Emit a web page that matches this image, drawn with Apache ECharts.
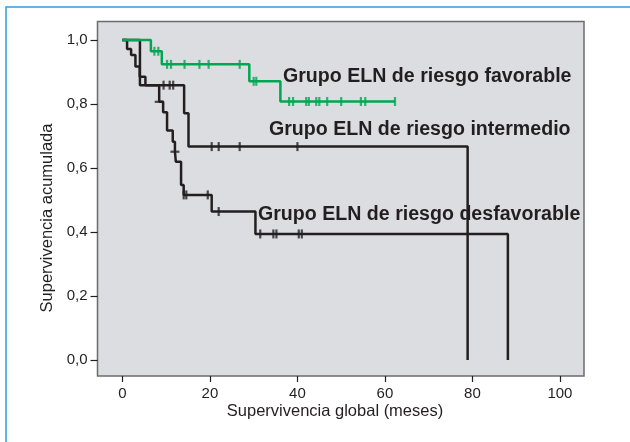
<!DOCTYPE html>
<html>
<head>
<meta charset="utf-8">
<script src="https://cdn.jsdelivr.net/npm/echarts@6/dist/echarts.min.js"></script>
<style>
html, body { margin: 0; padding: 0; background: #ffffff; }
#chart { width: 630px; height: 442px; }
</style>
</head>
<body>
<div id="chart"></div>
<script>
// Kaplan–Meier survival by ELN risk group: [month, cumulative survival]
const favorableSteps = [[0, 1], [6.5, 0.965], [9.0, 0.924], [29.0, 0.871], [36.1, 0.808], [62.3, 0.808]];
const favorableCensored = [
  [7.3, 0.965], [8.2, 0.965],
  [10.2, 0.924], [11.1, 0.924], [14.2, 0.924], [17.6, 0.924], [19.7, 0.924], [26.8, 0.924],
  [30.0, 0.871], [30.6, 0.871],
  [38.1, 0.808], [39.0, 0.808], [42.0, 0.808], [42.6, 0.808], [44.3, 0.808], [45.0, 0.808],
  [46.8, 0.808], [50.0, 0.808], [54.5, 0.808], [55.5, 0.808], [62.3, 0.808]
];

const intermediateSteps = [[0, 1], [4.0, 0.859], [14.1, 0.771], [15.1, 0.667], [78.9, 0]];
const intermediateCensored = [
  [9.4, 0.859], [10.8, 0.859], [11.6, 0.859],
  [20.4, 0.667], [22.0, 0.667], [26.8, 0.667], [40.0, 0.667]
];

const unfavorableSteps = [
  [0, 1], [1.06, 0.972], [1.98, 0.953], [2.97, 0.917], [3.95, 0.885], [5.25, 0.859],
  [8.4, 0.807], [9.3, 0.774], [10.2, 0.717], [11.5, 0.682], [12.0, 0.651], [12.2, 0.620],
  [13.4, 0.547], [14.0, 0.516], [20.4, 0.464], [30.4, 0.394], [88.1, 0]
];
const unfavorableCensored = [
  [14.0, 0.516], [14.6, 0.516], [19.5, 0.516], [22.0, 0.464],
  [31.5, 0.394], [34.5, 0.394], [35.2, 0.394], [40.3, 0.394], [41.0, 0.394]
];
// censored at the same time as an event (drawn across the vertical step)
const unfavorableTiedCensored = [[8.4, 0.807], [12.0, 0.651]];

const xTicks = [0, 20, 40, 60, 80, 100];
const yTicks = [0, 0.2, 0.4, 0.6, 0.8, 1.0];

const groupLabels = [
  'Grupo ELN de riesgo favorable',
  'Grupo ELN de riesgo intermedio',
  'Grupo ELN de riesgo desfavorable'
];
const xTitle = 'Supervivencia global (meses)';
const yTitle = 'Supervivencia acumulada';

const INK = '#231f20';
const GREEN = '#00a651';
const FONT = '"Liberation Sans", Arial, sans-serif';

function stepLine(data, color, z) {
  return {
    type: 'line', step: 'end', data: data, showSymbol: false, symbol: 'none',
    lineStyle: { color: color, width: 2.5 }, z: z, silent: true
  };
}
function ticks(data, color, z, size) {
  return {
    type: 'scatter', data: data, symbol: 'rect', symbolSize: size || [2.2, 9],
    itemStyle: { color: color }, z: z, silent: true
  };
}

const chart = echarts.init(document.getElementById('chart'), null, { renderer: 'canvas' });
chart.setOption({
  animation: false,
  backgroundColor: '#ffffff',
  grid: {
    left: 97.5, top: 21.5, right: 46, bottom: 66,
    show: true, backgroundColor: '#dcdde0', borderColor: '#6a6b6e', borderWidth: 1.5
  },
  xAxis: {
    type: 'value', min: -5.7, max: 105.5, position: 'bottom',
    axisLine: { show: false, onZero: false },
    splitLine: { show: false },
    axisTick: { show: true, inside: false, length: 6, customValues: xTicks, lineStyle: { color: INK, width: 1.2 } },
    axisLabel: { customValues: xTicks, margin: 10, color: INK, fontSize: 15, fontFamily: FONT }
  },
  yAxis: {
    type: 'value', min: -0.05, max: 1.058, position: 'left',
    axisLine: { show: false, onZero: false },
    splitLine: { show: false },
    axisTick: { show: true, inside: false, length: 7, customValues: yTicks, lineStyle: { color: INK, width: 1.2 } },
    axisLabel: {
      customValues: yTicks, margin: 10, color: INK, fontSize: 15, fontFamily: FONT,
      formatter: v => v.toFixed(1).replace('.', ',')
    }
  },
  series: [
    stepLine(intermediateSteps, INK, 2),
    ticks(intermediateCensored, INK, 3),
    stepLine(unfavorableSteps, INK, 2),
    ticks(unfavorableCensored, INK, 3),
    ticks(unfavorableTiedCensored, INK, 3, [9, 2.2]),
    stepLine(favorableSteps, GREEN, 4),
    ticks(favorableCensored, GREEN, 5)
  ],
  graphic: [
    {
      type: 'rect', silent: true, z: 100,
      shape: { x: 6, y: 7, width: 700, height: 500 },
      style: { fill: 'none', stroke: '#2f9fd8', lineWidth: 1.5 }
    },
    {
      type: 'text', x: 283, y: 77, z: 100, silent: true,
      style: { text: groupLabels[0], fill: INK, font: 'bold 19.6px ' + FONT, align: 'left', verticalAlign: 'middle' }
    },
    {
      type: 'text', x: 269, y: 130, z: 100, silent: true,
      style: { text: groupLabels[1], fill: INK, font: 'bold 19.6px ' + FONT, align: 'left', verticalAlign: 'middle' }
    },
    {
      type: 'text', x: 258, y: 215, z: 100, silent: true,
      style: { text: groupLabels[2], fill: INK, font: 'bold 19.6px ' + FONT, align: 'left', verticalAlign: 'middle' }
    },
    {
      type: 'text', x: 335, y: 411, z: 100, silent: true,
      style: { text: xTitle, fill: INK, font: '16.5px ' + FONT, align: 'center', verticalAlign: 'middle' }
    },
    {
      type: 'text', x: 47, y: 218, rotation: Math.PI / 2, z: 100, silent: true,
      style: { text: yTitle, fill: INK, font: '16.5px ' + FONT, align: 'center', verticalAlign: 'middle' }
    }
  ]
});
</script>
</body>
</html>
